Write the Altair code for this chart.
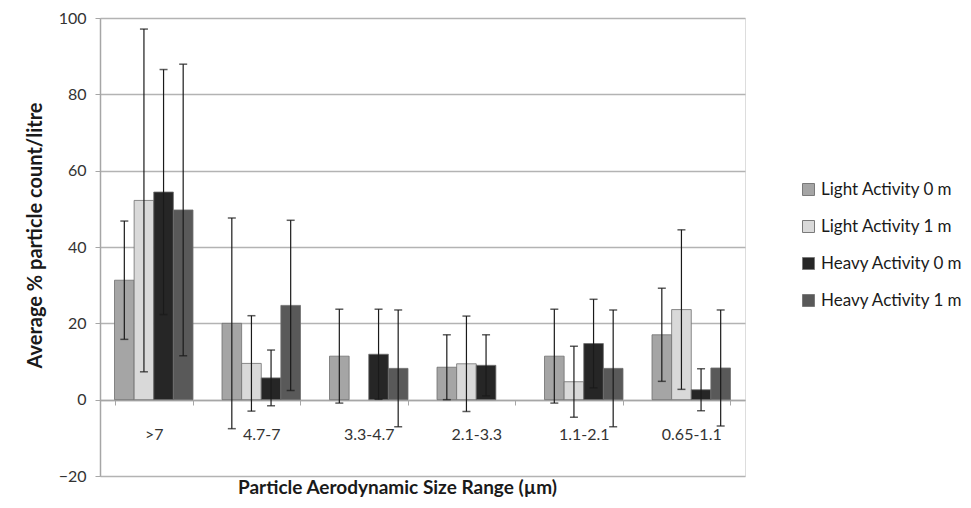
import altair as alt
import pandas as pd

categories = [">7", "4.7-7", "3.3-4.7", "2.1-3.3", "1.1-2.1", "0.65-1.1"]
series = ["Light Activity 0 m", "Light Activity 1 m", "Heavy Activity 0 m", "Heavy Activity 1 m"]

light0_mean = [31.3, 20.0, 11.4, 8.5, 11.4, 17.0]
light0_err = [15.5, 27.6, 12.3, 8.5, 12.3, 12.2]
light1_mean = [52.2, 9.5, None, 9.4, 4.7, 23.6]
light1_err = [44.9, 12.5, None, 12.5, 9.3, 20.9]
heavy0_mean = [54.4, 5.7, 11.9, 9.0, 14.7, 2.6]
heavy0_err = [32.1, 7.3, 11.8, 8.0, 11.6, 5.5]
heavy1_mean = [49.7, 24.7, 8.2, None, 8.2, 8.3]
heavy1_err = [38.2, 22.3, 15.3, None, 15.3, 15.2]

colors = ["#a5a5a5", "#d9d9d9", "#262626", "#595959"]
y_ticks = [-20, 0, 20, 40, 60, 80, 100]

means = [light0_mean, light1_mean, heavy0_mean, heavy1_mean]
errs = [light0_err, light1_err, heavy0_err, heavy1_err]
rows = []
for s, m_list, e_list in zip(series, means, errs):
    for c, m, e in zip(categories, m_list, e_list):
        if m is None:
            continue
        rows.append({"category": c, "series": s, "mean": m, "lo": m - e, "hi": m + e})
df = pd.DataFrame(rows)

FONT = "Lato"

x_axis_main = alt.Axis(
    title="Particle Aerodynamic Size Range (µm)",
    labelAngle=0,
    offset=-76,
    domainColor="#a6a6a6",
    domainWidth=1.5,
    tickColor="#a6a6a6",
    tickSize=5,
    tickBand="extent",
    labelPadding=21,
    labelFontSize=16,
    labelColor="#333333",
    labelFont=FONT,
    titleFont=FONT,
    titleFontSize=19,
    titleFontWeight="bold",
    titleColor="#1a1a1a",
    titlePadding=36,
    titleX=297,
    grid=False,
)

x_enc = alt.X(
    "category:N",
    sort=categories,
    scale=alt.Scale(paddingInner=0.27, paddingOuter=0.135),
    axis=x_axis_main,
)
xoff_enc = alt.XOffset("series:N", sort=series, scale=alt.Scale(paddingInner=0, paddingOuter=0))

bars = alt.Chart(df).mark_bar(stroke="#6e6e6e", strokeWidth=0.8).encode(
    x=x_enc,
    xOffset=xoff_enc,
    y=alt.Y(
        "mean:Q",
        scale=alt.Scale(domain=[-20, 100], nice=False),
        axis=alt.Axis(
            values=y_ticks,
            title="Average % particle count/litre",
            grid=True,
            gridColor="#b3b3b3",
            gridWidth=1.5,
            domainColor="#a6a6a6",
            domainWidth=1.5,
            tickColor="#a6a6a6",
            tickSize=5,
            labelPadding=9,
            labelFontSize=16,
            labelColor="#333333",
            labelFont=FONT,
            titleFont=FONT,
            titleFontSize=20,
            titleFontWeight="bold",
            titleColor="#1a1a1a",
            titlePadding=13,
            titleY=217,
        ),
    ),
    color=alt.Color(
        "series:N",
        sort=series,
        scale=alt.Scale(domain=series, range=colors),
        legend=alt.Legend(
            title=None,
            orient="none",
            legendX=700,
            legendY=163,
            symbolType="square",
            symbolSize=144,
            symbolStrokeColor="#7a7a7a",
            symbolStrokeWidth=1,
            labelFontSize=17,
            labelFont=FONT,
            labelColor="#1a1a1a",
            labelOffset=4,
            rowPadding=19,
            labelLimit=300,
        ),
    ),
)

rules = alt.Chart(df).mark_rule(color="#1a1a1a", strokeWidth=1.2).encode(
    x=x_enc, xOffset=xoff_enc, y=alt.Y("lo:Q"), y2="hi:Q"
)
cap_hi = alt.Chart(df).mark_tick(color="#1a1a1a", thickness=1.5, size=8, orient="horizontal").encode(
    x=x_enc, xOffset=xoff_enc, y=alt.Y("hi:Q")
)
cap_lo = alt.Chart(df).mark_tick(color="#1a1a1a", thickness=1.5, size=8, orient="horizontal").encode(
    x=x_enc, xOffset=xoff_enc, y=alt.Y("lo:Q")
)

chart = (
    alt.layer(bars, rules, cap_hi, cap_lo)
    .properties(
        width=645,
        height=458,
        padding={"left": 92, "top": 10, "right": 218, "bottom": 24},
        autosize=alt.AutoSizeParams(type="none"),
    )
    .configure_view(strokeWidth=0, stroke="transparent")
    .configure_axisX(grid=False, gridOpacity=0)
    .configure_axisBand(grid=False, gridOpacity=0)
    .configure_axisDiscrete(grid=False, gridOpacity=0)
    .configure(background="white")
)

chart.save("out.html", embed_options={"renderer": "svg", "actions": False})
